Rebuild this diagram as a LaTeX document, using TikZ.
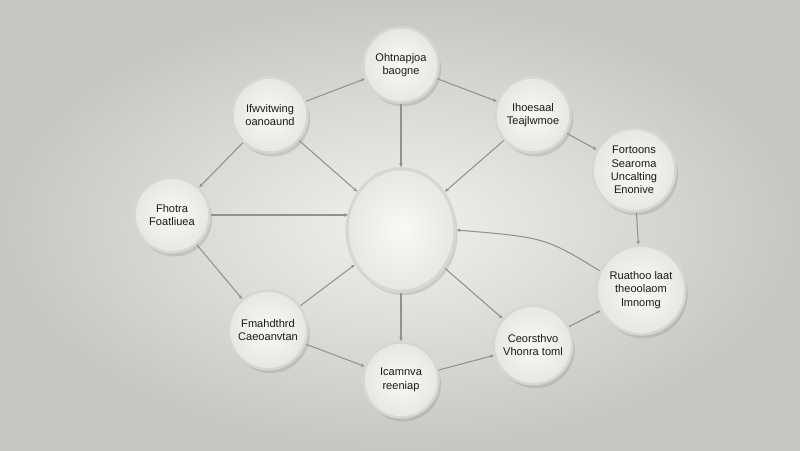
\documentclass[tikz,border=0pt]{standalone}
\usepackage{fontspec}
\setmainfont{Liberation Sans}
\usetikzlibrary{shapes.geometric,arrows.meta,positioning,shadows}
\definecolor{bgcenter}{RGB}{242,240,235}
\definecolor{bgedge}{RGB}{200,198,193}
\definecolor{ballfill}{RGB}{250,249,246}
\definecolor{ballrim}{RGB}{216,214,209}
\definecolor{linkgray}{RGB}{145,145,143}

\begin{document}
\begin{tikzpicture}[on grid,
    ball/.style={circle, minimum size=1.5cm, draw=ballrim, line width=1.4pt,
      inner color=ballfill, outer color=ballrim!60, align=center,
      font=\fontsize{6.3}{7.6}\selectfont, text=black!90,
      drop shadow={shadow xshift=0.5mm, shadow yshift=-0.8mm, opacity=0.25}},
    hubball/.style={ball, ellipse, minimum width=2.16cm, minimum height=2.45cm, line width=1.8pt},
    link/.style={draw=linkgray, line width=0.6pt, -{Stealth[length=2.2pt, width=2pt]}}]

  \useasboundingbox (0,0) rectangle (16,9);
  \shade[inner color=bgcenter, outer color=bgedge] (0,0) rectangle (16,9);

  \node[hubball] (hub) at (8.02,4.4) {};
  \node[ball, above=3.3cm of hub] (top) {Ohtnapjoa\\baogne};
  \node[ball, above left=2.3cm and 2.62cm of hub] (upl) {Ifwvitwing\\oanoaund};
  \node[ball, above right=2.3cm and 2.64cm of hub] (upr) {Ihoesaal\\Teajlwmoe};
  \node[ball, above right=1.2cm and 4.66cm of hub, minimum size=1.6cm] (rgt) {Fortoons\\Searoma\\Uncalting\\Enonive};
  \node[ball, above left=0.3cm and 4.58cm of hub] (lft) {Fhotra\\Foatliuea};
  \node[ball, below right=1.2cm and 4.8cm of hub, minimum size=1.6cm] (lowr) {Ruathoo laat\\theoolaom\\lmnomg};
  \node[ball, below left=2.0cm and 2.66cm of hub] (lowl) {Fmahdthrd\\Caeoanvtan};
  \node[ball, below=3.0cm of hub] (bot) {Icamnva\\reeniap};
  \node[ball, below right=2.3cm and 2.64cm of hub] (lowm) {Ceorsthvo\\Vhonra toml};

  \draw[link] (top) -- (hub);
  \draw[link] (upl) -- (top);
  \draw[link] (top) -- (upr);
  \draw[link] (upl) -- (hub);
  \draw[link] (upr) -- (hub);
  \draw[link] (upr) -- (rgt);
  \draw[link] (rgt) -- (lowr);
  \draw[link] (upl) -- (lft);
  \draw[link] (lft.east) -- ([xshift=0.5mm]hub.west |- lft.east);
  \draw[link] (lft) -- (lowl);
  \draw[link] (lowl) -- (hub);
  \draw[link] (lowl) -- (bot);
  \draw[link] (hub) -- (bot);
  \draw[link] (hub) -- (lowm);
  \draw[link] (bot) -- (lowm);
  \draw[link] (lowm) -- (lowr);
  \draw[link] (lowr.155) .. controls (10.9,4.25) .. (hub.east);
\end{tikzpicture}
\end{document}
